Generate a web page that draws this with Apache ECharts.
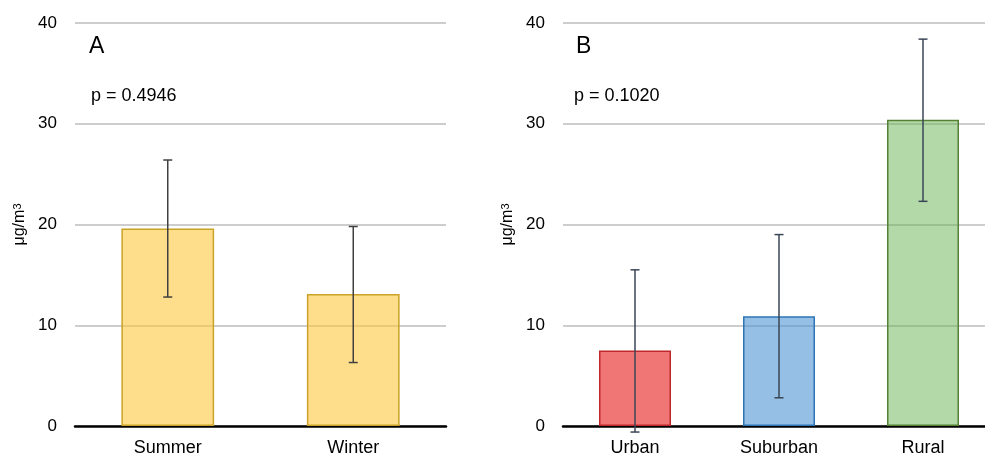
<!DOCTYPE html>
<html>
<head>
<meta charset="utf-8">
<script src="https://cdn.jsdelivr.net/npm/echarts@6/dist/echarts.min.js"></script>
<style>
  html, body { margin: 0; padding: 0; background: #fff; }
  #chart { width: 985px; height: 460px; }
</style>
</head>
<body>
<div id="chart"></div>
<script>
// 面板 A：季节
const seasonCats = ['Summer', 'Winter']
const seasonMean = [19.6, 13.1]
const seasonLow = [12.8, 6.3]
const seasonHigh = [26.4, 19.8]

// 面板 B：地点
const siteCats = ['Urban', 'Suburban', 'Rural']
const siteMean = [7.5, 10.9, 30.4]
const siteLow = [-0.6, 2.8, 22.3]
const siteHigh = [15.5, 19.0, 38.4]

const yTicks = [0, 10, 20, 30, 40]

const seasonFill = [
  { fill: 'rgba(253,200,62,0.6)', border: '#C9A227' },
  { fill: 'rgba(253,200,62,0.6)', border: '#C9A227' },
]
const siteFill = [
  { fill: 'rgba(235,71,71,0.75)', border: '#C0282D' },
  { fill: 'rgba(78,148,210,0.6)', border: '#2E75B6' },
  { fill: 'rgba(103,179,81,0.5)', border: '#548235' },
]

const font = 'Liberation Sans, Arial, sans-serif'

function makeX(idx, cats) {
  return {
    type: 'category',
    gridIndex: idx,
    data: cats,
    axisTick: { show: false },
    axisLine: { lineStyle: { color: '#000', width: 2.5 } },
    axisLabel: { color: '#000', fontSize: 18, fontFamily: font, margin: 13 },
  }
}

function makeY(idx) {
  return {
    type: 'value',
    gridIndex: idx,
    min: yTicks[0],
    max: yTicks[yTicks.length - 1],
    interval: 10,
    name: 'μg/m{sup|3}',
    nameLocation: 'middle',
    nameGap: 47,
    nameRotate: 90,
    nameTextStyle: {
      color: '#000',
      fontSize: 16,
      fontFamily: font,
      rich: { sup: { fontSize: 11, verticalAlign: 'top', color: '#000', fontFamily: font } },
    },
    axisLine: { show: false },
    axisTick: { show: false },
    axisLabel: { color: '#000', fontSize: 17, fontFamily: font, margin: 18 },
    splitLine: { lineStyle: { color: '#BDBDBD', width: 1.5 } },
  }
}

function barSeries(idx, values, styles) {
  return {
    type: 'bar',
    xAxisIndex: idx,
    yAxisIndex: idx,
    barWidth: '50%',
    data: values.map((v, i) => ({
      value: v,
      itemStyle: { color: styles[i].fill, borderColor: styles[i].border, borderWidth: 1.5 },
    })),
  }
}

// 误差线
function errSeries(idx, low, high, color) {
  return {
    type: 'custom',
    xAxisIndex: idx,
    yAxisIndex: idx,
    clip: false,
    z: 5,
    data: low.map((l, i) => [i, l, high[i]]),
    renderItem(params, api) {
      const lo = api.coord([api.value(0), api.value(1)])
      const hi = api.coord([api.value(0), api.value(2)])
      const w = 4.5
      const style = { stroke: color, lineWidth: 1.5 }
      return {
        type: 'group',
        children: [
          { type: 'line', shape: { x1: lo[0], y1: lo[1], x2: hi[0], y2: hi[1] }, style },
          { type: 'line', shape: { x1: lo[0] - w, y1: lo[1], x2: lo[0] + w, y2: lo[1] }, style },
          { type: 'line', shape: { x1: hi[0] - w, y1: hi[1], x2: hi[0] + w, y2: hi[1] }, style },
        ],
      }
    },
  }
}

function label(x, y, text, size) {
  return {
    type: 'text',
    left: x,
    top: y,
    style: { text, fontSize: size, fontFamily: font, fill: '#000' },
  }
}

const chart = echarts.init(document.getElementById('chart'))
chart.setOption({
  animation: false,
  grid: [
    { left: 75, top: 23, width: 371, bottom: 34, outerBoundsMode: 'none' },
    // 右图被裁切，网格伸出画布
    { left: 563, top: 23, width: 432, bottom: 34, outerBoundsMode: 'none' },
  ],
  xAxis: [makeX(0, seasonCats), makeX(1, siteCats)],
  yAxis: [makeY(0), makeY(1)],
  series: [
    barSeries(0, seasonMean, seasonFill),
    errSeries(0, seasonLow, seasonHigh, '#404040'),
    barSeries(1, siteMean, siteFill),
    errSeries(1, siteLow, siteHigh, '#3A4656'),
  ],
  graphic: [
    label(89, 35, 'A', 23),
    label(91, 87, 'p = 0.4946', 18),
    label(576, 35, 'B', 23),
    label(574, 87, 'p = 0.1020', 18),
  ],
})
</script>
</body>
</html>
